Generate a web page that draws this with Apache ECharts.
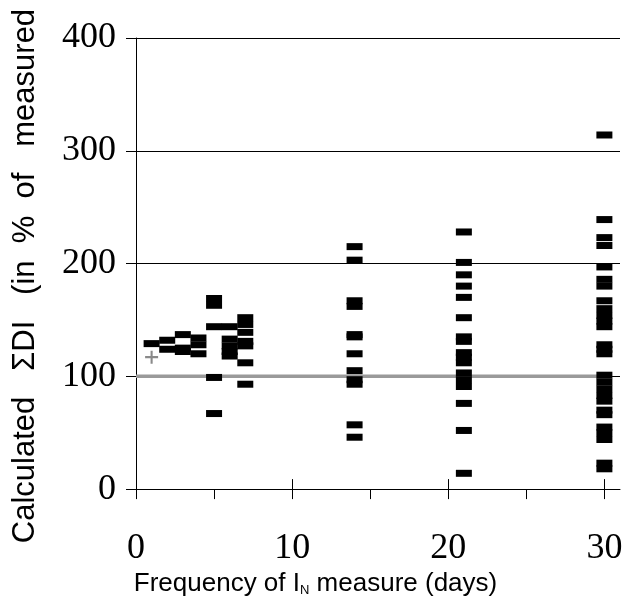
<!DOCTYPE html>
<html>
<head>
<meta charset="utf-8">
<script src="https://cdn.jsdelivr.net/npm/echarts@6/dist/echarts.min.js"></script>
<style>
html,body{margin:0;padding:0;background:#fff;}
#chart{width:627px;height:602px;}
</style>
</head>
<body>
<div id="chart"></div>
<script>
// Data (x = frequency of measure in days, y = % of measured)
const freqDays = [1, 2, 3, 4, 5, 6, 7, 14, 21, 30];
const day1 = [129];
const day2 = [132, 124];
const day3 = [137, 125, 122];
const day4 = [134, 128, 120];
const day5 = [169, 163, 144, 99, 67];
const day6 = [144, 133, 127, 122, 118];
const day7 = [152, 146, 139, 131, 127, 112, 93];
const day14 = [215, 203, 167, 162, 137, 135, 120, 105, 97, 93, 57, 46];
const day21 = [228, 201, 190, 180, 170, 152, 135, 131, 121, 117, 112, 103, 97, 91, 76, 52, 14];
const day30 = [314, 239, 223, 216, 197, 186, 180, 167, 160, 154, 149, 144, 128, 124, 120, 101, 95, 89, 83, 78, 70, 66, 55, 50, 44, 23, 18];
const crossX = [1];
const crossY = [117];
const refLineX = [0, 30];
const refLineY = [100, 100];
const xTickLabels = [0, 10, 20, 30];
const xMinorTicks = [0, 5, 10, 15, 20, 25, 30];
const yTickLabels = [0, 100, 200, 300, 400];

const groups = [day1, day2, day3, day4, day5, day6, day7, day14, day21, day30];
const scatterData = [];
groups.forEach((vals, i) => vals.forEach(v => scatterData.push([freqDays[i], v])));
const crossData = crossX.map((x, i) => [x, crossY[i]]);
const refData = refLineX.map((x, i) => [x, refLineY[i]]);

const chart = echarts.init(document.getElementById('chart'), null, {renderer: 'canvas'});
chart.setOption({
  animation: false,
  backgroundColor: '#ffffff',
  grid: {left: 136, right: 7, top: 38, bottom: 110, containLabel: false},
  xAxis: [{
    type: 'value', min: 0, max: 31, interval: 5, position: 'bottom',
    axisLine: {show: true, lineStyle: {color: '#000', width: 1}},
    axisTick: {show: true, inside: false, length: 10, lineStyle: {color: '#000', width: 1}, customValues: xMinorTicks},
    axisLabel: {show: true, customValues: xTickLabels, margin: 41, color: '#000',
      fontFamily: 'Liberation Serif', fontSize: 36},
    splitLine: {show: false},
    name: '{a|Frequency of I}{sub|N}{a| measure (days)}',
    nameLocation: 'middle', nameGap: 72,
    nameTextStyle: {
      padding: [0, 125, 0, 0],
      rich: {
        a: {fontFamily: 'Liberation Sans', fontSize: 26, color: '#000'},
        sub: {fontFamily: 'Liberation Sans', fontSize: 13, color: '#000', lineHeight: 10, verticalAlign: 'bottom'}
      }
    }
  }, {
    type: 'value', min: 0, max: 31, interval: 5, position: 'bottom',
    axisLine: {show: false},
    axisTick: {show: true, inside: true, length: 10, lineStyle: {color: '#000', width: 1}, customValues: xTickLabels},
    axisLabel: {show: false},
    splitLine: {show: false}
  }],
  yAxis: {
    type: 'value', min: 0, max: 400, interval: 100,
    axisLine: {show: true, lineStyle: {color: '#000', width: 1}},
    axisTick: {show: true, inside: false, length: 10, lineStyle: {color: '#000', width: 1}},
    axisLabel: {margin: 20, color: '#000', fontFamily: 'Liberation Serif', fontSize: 36,
      customValues: yTickLabels},
    splitLine: {show: true, lineStyle: {color: '#000', width: 1}},
    name: 'Calculated   ΣDI   (in  %  of   measured',
    nameLocation: 'middle', nameGap: 95, nameRotate: 90,
    nameTextStyle: {fontFamily: 'Liberation Sans', fontSize: 31, color: '#000', padding: [0, 25, 0, 0]}
  },
  series: [{
    type: 'line', data: refData, xAxisIndex: 0, symbol: 'none', silent: true, z: 2,
    lineStyle: {color: '#9a9a9a', width: 3.5}
  }, {
    type: 'scatter', data: crossData, xAxisIndex: 0, z: 4,
    symbol: 'path://M4.2,0H5.8V4.2H10V5.8H5.8V10H4.2V5.8H0V4.2H4.2Z', symbolSize: 13,
    itemStyle: {color: '#8a8a8a', opacity: 1}
  }, {
    type: 'scatter', data: scatterData, xAxisIndex: 0, z: 5,
    symbol: 'rect', symbolSize: [16, 7],
    itemStyle: {color: '#000', opacity: 1}
  }]
});
</script>
</body>
</html>
